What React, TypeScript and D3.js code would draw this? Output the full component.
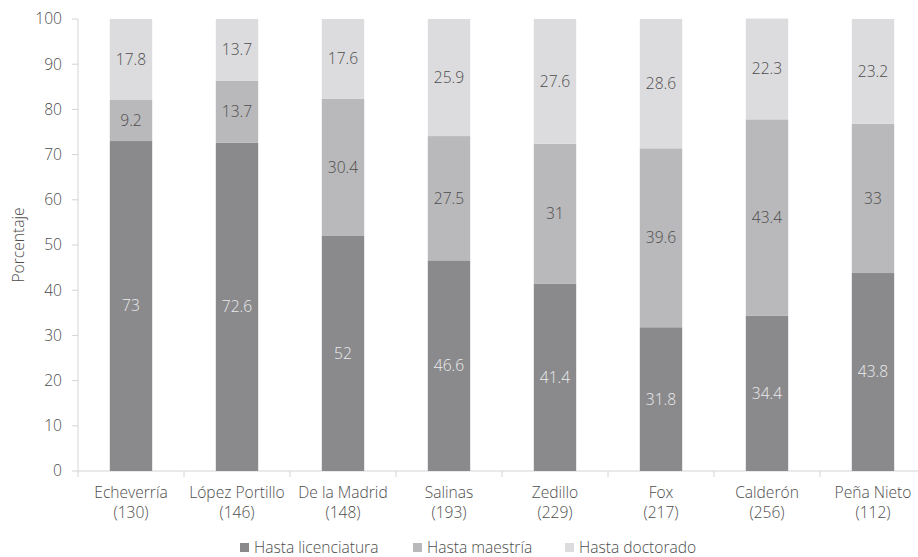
import React from "react";
import * as d3 from "d3";

const categories = ["Echeverría", "López Portillo", "De la Madrid", "Salinas", "Zedillo", "Fox", "Calderón", "Peña Nieto"];
const counts = ["(130)", "(146)", "(148)", "(193)", "(229)", "(217)", "(256)", "(112)"];
const licenciatura = [73, 72.6, 52, 46.6, 41.4, 31.8, 34.4, 43.8];
const maestria = [9.2, 13.7, 30.4, 27.5, 31, 39.6, 43.4, 33];
const doctorado = [17.8, 13.7, 17.6, 25.9, 27.6, 28.6, 22.3, 23.2];
const seriesNames = ["Hasta licenciatura", "Hasta maestría", "Hasta doctorado"];
const yTicks = [0, 10, 20, 30, 40, 50, 60, 70, 80, 90, 100];

const W = 918;
const H = 557;
const left = 78;
const right = 926;
const top = 19;
const bottom = 471;
const colors = ["#8a8a8c", "#b9b9bb", "#dcdcde"];
const labelColors = ["#ececec", "#4d4d4d", "#4d4d4d"];
const textColor = "#4d4d4d";
const axisColor = "#d4d4d4";
const font = "'Open Sans', 'Noto Sans', sans-serif";
const fs = 15.6;
const fw = 350;

export default function App() {
  const x = d3.scaleBand<string>().domain(categories).range([left, right]).paddingInner(0.6).paddingOuter(0.3);
  const y = d3.scaleLinear().domain([0, 100]).range([bottom, top]);

  const rows = categories.map((c, i) => ({
    cat: c,
    lic: licenciatura[i],
    mae: maestria[i],
    doc: doctorado[i],
  }));
  const stack = d3.stack<any>().keys(["lic", "mae", "doc"])(rows);
  const step = x.step();

  return (
    <svg width={W} height={H} style={{ position: "absolute", left: 0, top: 0, background: "#fff" }} fontFamily={font} fontWeight={fw}>
      {/* y axis */}
      <line x1={left} x2={left} y1={top} y2={bottom + 6} stroke={axisColor} />
      {yTicks.map((t) => (
        <g key={t}>
          <line x1={left - 6} x2={left} y1={y(t)} y2={y(t)} stroke={axisColor} />
          <text x={62} y={y(t)} dy="0.35em" textAnchor="end" fontSize={fs} fill={textColor}>
            {t}
          </text>
        </g>
      ))}
      <text transform={`translate(24,${(top + bottom) / 2}) rotate(-90)`} textAnchor="middle" fontSize={fs} fill={textColor}>
        Porcentaje
      </text>

      {/* x axis */}
      <line x1={left} x2={W} y1={bottom} y2={bottom} stroke={axisColor} />
      {categories.slice(1).map((c) => (
        <line key={c} x1={x(c)! - (step - x.bandwidth()) / 2} x2={x(c)! - (step - x.bandwidth()) / 2} y1={bottom} y2={bottom + 6} stroke={axisColor} />
      ))}
      {categories.map((c, i) => (
        <text key={c} x={x(c)! + x.bandwidth() / 2} textAnchor="middle" fontSize={fs} fill={textColor}>
          <tspan x={x(c)! + x.bandwidth() / 2} y={498}>{c}</tspan>
          <tspan x={x(c)! + x.bandwidth() / 2} y={518}>{counts[i]}</tspan>
        </text>
      ))}

      {/* stacked bars */}
      {stack.map((layer, si) => (
        <g key={si}>
          {layer.map((d, i) => (
            <g key={i}>
              <rect x={x(categories[i])!} width={x.bandwidth()} y={y(d[1])} height={y(d[0]) - y(d[1])} fill={colors[si]} />
              <text
                x={x(categories[i])! + x.bandwidth() / 2}
                y={(y(d[0]) + y(d[1])) / 2}
                dy="0.35em"
                textAnchor="middle"
                fontSize={fs}
                fill={labelColors[si]}
              >
                {d[1] - d[0] === 0 ? "" : String(+(d[1] - d[0]).toFixed(1))}
              </text>
            </g>
          ))}
        </g>
      ))}

      {/* legend */}
      {[
        { x: 240, name: seriesNames[0] },
        { x: 413, name: seriesNames[1] },
        { x: 565, name: seriesNames[2] },
      ].map((l, i) => (
        <g key={i}>
          <rect x={l.x} y={543} width={9} height={9} fill={colors[i]} />
          <text x={l.x + 14} y={553} fontSize={fs} fill={textColor}>
            {l.name}
          </text>
        </g>
      ))}
    </svg>
  );
}
